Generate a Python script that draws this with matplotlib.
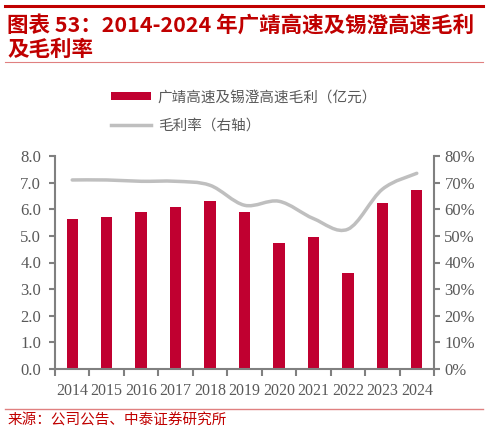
import matplotlib
matplotlib.use("Agg")
import matplotlib.pyplot as plt
from matplotlib.path import Path
from matplotlib.patches import PathPatch, Patch
from matplotlib.lines import Line2D
from matplotlib.ticker import PercentFormatter

plt.rcParams['font.family'] = ['Noto Sans CJK SC', 'DejaVu Sans']

years = ["2014", "2015", "2016", "2017", "2018", "2019", "2020", "2021", "2022", "2023", "2024"]
gross_profit = [5.64, 5.71, 5.90, 6.10, 6.32, 5.90, 4.74, 4.96, 3.62, 6.23, 6.73]
gross_margin = [71.0, 71.0, 70.5, 70.5, 69.0, 61.5, 63.0, 56.5, 52.5, 67.5, 73.5]

bar_label = "广靖高速及锡澄高速毛利（亿元）"
line_label = "毛利率（右轴）"
title = "图表 53：2014-2024 年广靖高速及锡澄高速毛利\n及毛利率"
source = "来源：公司公告、中泰证券研究所"

red = "#C00030"
grey_line = "#BFBFBF"
axis_grey = "#808080"
text_grey = "#595959"

fig = plt.figure(figsize=(4.88, 4.33), dpi=100)
ax = fig.add_axes([55 / 488, 1 - 369 / 433, (434 - 55) / 488, (369 - 156) / 433])
ax2 = ax.twinx()

x = list(range(len(years)))
ax.bar(x, gross_profit, width=0.33, color=red, zorder=2)

# smooth margin line (Catmull-Rom -> cubic Bezier)
verts = [(x[0], gross_margin[0])]
codes = [Path.MOVETO]
for i in range(len(x) - 1):
    p0 = (x[max(i - 1, 0)], gross_margin[max(i - 1, 0)])
    p1 = (x[i], gross_margin[i])
    p2 = (x[i + 1], gross_margin[i + 1])
    p3 = (x[min(i + 2, len(x) - 1)], gross_margin[min(i + 2, len(x) - 1)])
    c1 = (p1[0] + (p2[0] - p0[0]) / 6, p1[1] + (p2[1] - p0[1]) / 6)
    c2 = (p2[0] - (p3[0] - p1[0]) / 6, p2[1] - (p3[1] - p1[1]) / 6)
    verts += [c1, c2, p2]
    codes += [Path.CURVE4] * 3
ax2.add_patch(PathPatch(Path(verts, codes), facecolor="none", edgecolor=grey_line,
                        lw=2.5, capstyle="round", zorder=3))

ax.set_xlim(-0.5, len(years) - 0.5)
ax.set_ylim(0, 8)
ax2.set_ylim(0, 80)
ax.set_yticks([0, 1, 2, 3, 4, 5, 6, 7, 8])
ax.set_yticklabels([f"{v:.1f}" for v in range(9)])
ax2.set_yticks(range(0, 81, 10))
ax2.yaxis.set_major_formatter(PercentFormatter(decimals=0))

ax.set_xticks(x)
ax.set_xticklabels(years)
ax.set_xticks([i - 0.5 for i in range(len(years) + 1)], minor=True)

for a in (ax, ax2):
    for s in a.spines.values():
        s.set_visible(False)
    a.tick_params(colors=axis_grey, labelcolor=text_grey, labelsize=11, width=1.5, length=4)
ax.spines["left"].set_visible(True)
ax.spines["bottom"].set_visible(True)
ax2.spines["right"].set_visible(True)
for s in (ax.spines["left"], ax.spines["bottom"], ax2.spines["right"]):
    s.set_color(axis_grey)
    s.set_linewidth(1.5)

ax.tick_params(axis="x", which="major", length=0, pad=10)
ax.tick_params(axis="x", which="minor", length=5, width=1.5, colors=axis_grey)
ax.tick_params(axis="y", pad=6)
for lbl in ax.get_xticklabels() + ax.get_yticklabels() + ax2.get_yticklabels():
    lbl.set_fontfamily(["Liberation Serif", "DejaVu Serif"])
    lbl.set_fontsize(12)
for lbl in ax.get_xticklabels():
    lbl.set_fontsize(11.5)

# legend
handles = [Patch(facecolor=red, edgecolor="none"),
           Line2D([], [], color=grey_line, lw=2.5)]
fig.legend(handles, [bar_label, line_label], loc="upper left",
           bbox_to_anchor=(98 / 488, 1 - 77 / 433), frameon=False,
           fontsize=10.5, labelcolor=text_grey, handlelength=2.7,
           handleheight=0.5, labelspacing=1.0, handletextpad=0.5)

# header and footer
fig.add_artist(Line2D([5 / 488, 483 / 488], [1 - 6 / 433] * 2, color="#C00000", lw=2.2))
fig.add_artist(Line2D([5 / 488, 483 / 488], [1 - 62 / 433] * 2, color="#E08080", lw=0.8))
fig.text(7 / 488, 1 - 37 / 433, title, color="#C00000", fontsize=15.5, fontweight="bold",
         va="center", ha="left", linespacing=1.2)
fig.add_artist(Line2D([5 / 488, 483 / 488], [1 - 409 / 433] * 2, color="#E08080", lw=1.0))
fig.text(8 / 488, 1 - 421 / 433, source, color="#C00000", fontsize=10.5, va="center", ha="left")

fig.savefig("out.png", dpi=100)
